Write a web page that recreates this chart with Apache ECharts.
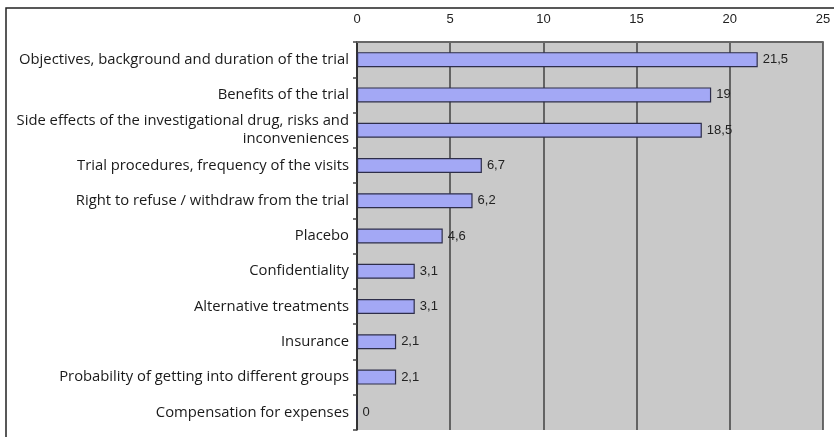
<!DOCTYPE html>
<html>
<head>
<meta charset="utf-8">
<script src="https://cdn.jsdelivr.net/npm/echarts@6/dist/echarts.min.js"></script>
<style>
  html, body { margin: 0; padding: 0; background: #fff; }
  #chart { width: 834px; height: 437px; }
</style>
</head>
<body>
<div id="chart"></div>
<script>
// Topics covered in the informed consent, ranked by score
const categories = [
  'Objectives, background and duration of the trial',
  'Benefits of the trial',
  'Side effects of the investigational drug, risks and\ninconveniences',
  'Trial procedures, frequency of the visits',
  'Right to refuse / withdraw from the trial',
  'Placebo',
  'Confidentiality',
  'Alternative treatments',
  'Insurance',
  'Probability of getting into different groups',
  'Compensation for expenses'
];
const values = [21.5, 19, 18.5, 6.7, 6.2, 4.6, 3.1, 3.1, 2.1, 2.1, 0];
const axisTicks = [0, 5, 10, 15, 20, 25];

const chart = echarts.init(document.getElementById('chart'), null, { renderer: 'canvas' });

chart.setOption({
  animation: false,
  backgroundColor: '#fff',
  graphic: [{
    type: 'rect',
    shape: { x: 6, y: 8, width: 900, height: 500 },
    style: { fill: 'none', stroke: '#222', lineWidth: 1.5 },
    z: 0
  }],
  grid: {
    left: 357, right: 11, top: 42, bottom: 7,
    show: true, backgroundColor: '#c9c9c9', borderWidth: 0
  },
  xAxis: {
    type: 'value',
    position: 'top',
    min: axisTicks[0],
    max: axisTicks[axisTicks.length - 1],
    interval: axisTicks[1] - axisTicks[0],
    axisLine: { show: true, lineStyle: { color: '#666', width: 2 } },
    axisTick: { show: false },
    axisLabel: {
      margin: 16,
      fontFamily: 'Liberation Sans, Arial, sans-serif',
      fontSize: 13, color: '#222'
    },
    splitLine: { show: true, lineStyle: { color: '#4a4a4a', width: 1.6 } }
  },
  yAxis: {
    type: 'category',
    inverse: true,
    data: categories,
    axisLine: { show: true, lineStyle: { color: '#222', width: 1.5 } },
    axisTick: { show: true, length: 4, lineStyle: { color: '#444', width: 1.5 } },
    axisLabel: {
      margin: 8,
      fontFamily: 'Open Sans, Noto Sans, sans-serif',
      fontSize: 14.8, color: '#1a1a1a',
      align: 'right', lineHeight: 18
    }
  },
  series: [{
    type: 'bar',
    data: values,
    barWidth: 15,
    itemStyle: { color: '#a3a8f5', borderColor: '#2e2e4a', borderWidth: 1.2 },
    label: {
      show: true, position: 'right', distance: 5,
      fontFamily: 'Liberation Sans, Arial, sans-serif',
      fontSize: 13, color: '#222',
      formatter: p => String(p.value).replace('.', ',')
    }
  }]
});
</script>
</body>
</html>
